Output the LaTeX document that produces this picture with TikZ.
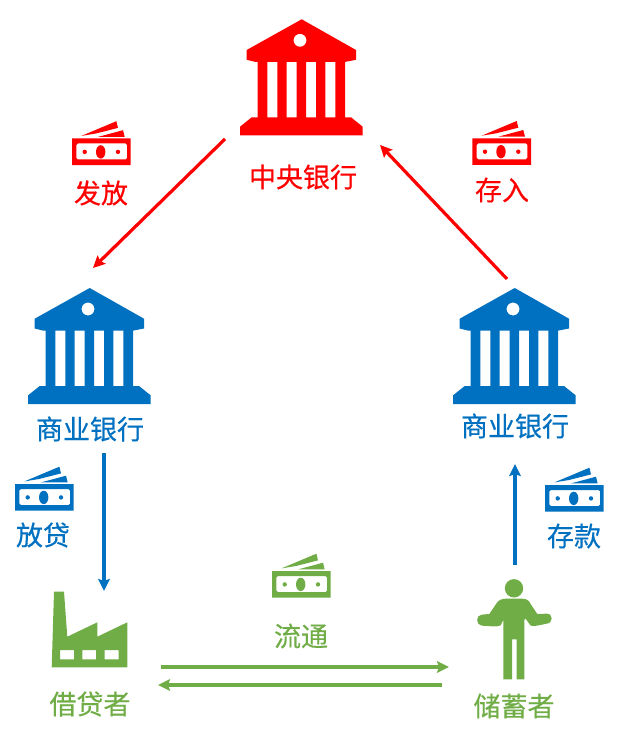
\documentclass[tikz,border=0pt]{standalone}
\usepackage{fontspec}
\setmainfont[FakeBold=0.35]{Noto Sans CJK SC}
\definecolor{cred}{HTML}{FF0000}
\definecolor{cblue}{HTML}{0070C0}
\definecolor{cgreen}{HTML}{70AD47}
\usetikzlibrary{arrows.meta}
\tikzset{
  x=1pt,y=-1pt,
  lbl/.style={font=\fontsize{27}{28}\selectfont,inner sep=0pt,text=#1},
  arr/.style={draw=#1,line width=3.2pt,-{Stealth[length=12pt,width=11.5pt,inset=2pt]}},
  bank/.pic={
    \fill[pic actions,even odd rule]
      (0,0)--(54.3,30.7)--(54.3,40.5)--(44,42.5)--(43.3,42.5)--(43.3,98)--(49.3,98)--(61,107.4)--(61,116)
      --(-61.7,116)--(-61.7,107.4)--(-50,98)--(-44,98)--(-44,42.5)--(-47,42.5)--(-55,40.5)--(-55,30.7)--cycle
      (-34.4,42.5) rectangle (-24.4,98)
      (-15,42.5) rectangle (-5,98)
      (4.3,42.5) rectangle (14.3,98)
      (23.6,42.5) rectangle (33.6,98)
      (-1.7,21) circle[radius=6.5];
  },
  money/.pic={
    \fill[pic actions,even odd rule] (0,0) rectangle (58.7,26.7)
      [rounded corners=1.5pt] (4.4,5) rectangle (55,21);
    \fill[pic actions] (28.7,13.4) ellipse[x radius=4.7,y radius=6.7];
    \fill[pic actions] (12.7,13.4) circle[radius=2.2];
    \fill[pic actions] (46,13.4) circle[radius=2.2];
    \fill[pic actions] (9.4,-2.6)--(44.4,-17.3)--(46,-10.6)--(24,-5)--cycle;
    \fill[pic actions] (26,-1.6)--(51,-8.3)--(52.7,-1.6)--cycle;
  },
}
\begin{document}
\begin{tikzpicture}
\useasboundingbox (0,0) rectangle (618,738);
% banks
\pic[fill=cred] at (301.7,19.3) {bank};
\pic[fill=cblue] at (89.7,288) {bank};
\pic[fill=cblue] at (514.7,288) {bank};
% money
\pic[fill=cred] at (72,138.5) {money};
\pic[fill=cred] at (472.3,138.3) {money};
\pic[fill=cblue] at (15,484) {money};
\pic[fill=cblue] at (545,485) {money};
\pic[fill=cgreen] at (272,571) {money};
% factory
\fill[cgreen,even odd rule] (54,591.7)--(64,591.7)--(67.3,636.7)--(97.3,622.3)--(97.3,636.7)--(127.3,622.3)--(127.3,667.3)--(51.7,667.3)--cycle
  (60,650) rectangle (74,659.3)
  (82.3,650) rectangle (96,659.3)
  (104.7,650) rectangle (118.7,659.3);
% person
\fill[cgreen] (514,588.3) circle[radius=9.2];
\begin{scope}[shift={(440,570)},x=0.3333pt,y=-0.3333pt]
\fill[cgreen,even odd rule] (190,328)--(190,150)--(182,166) .. controls (170,172) and (150,168) .. (125,167)
  .. controls (107,165) and (107,135) .. (125,134)--(148,132)--(168,102)
  .. controls (175,90) and (185,86) .. (198,86)--(245,86)
  .. controls (258,86) and (267,90) .. (272,102)--(292,132)--(320,131)
  .. controls (340,130) and (340,160) .. (320,161)
  .. controls (300,165) and (285,170) .. (272,167)--(256,145)--(253,150)--(253,328)--(230,328)--(230,208)--(216,208)--(216,328)--cycle;
\end{scope}
% labels
\node[lbl=cred] (cb) at (303,177) {中央银行};
\node[lbl=cred] (issue) at (101,193) {发放};
\node[lbl=cred] (dep) at (502,190) {存入};
\node[lbl=cblue] (cbl) at (90,429) {商业银行};
\node[lbl=cblue] (cbr) at (515,426) {商业银行};
\node[lbl=cblue] (loan) at (43,535) {放贷};
\node[lbl=cblue] (save) at (574,536) {存款};
\node[lbl=cgreen] (flow) at (301,636) {流通};
\node[lbl=cgreen] (bor) at (90,704) {借贷者};
\node[lbl=cgreen] (sav) at (514,706) {储蓄者};
% connector ends
\coordinate (a1) at (225,139); \coordinate (a2) at (93,268);
\coordinate (b1) at (507,279); \coordinate (b2) at (380,145);
\coordinate (c1) at (104,453); \coordinate (c2) at (104,591);
\coordinate (d1) at (515,565); \coordinate (d2) at (515,464);
\coordinate (e1) at (161,667); \coordinate (e2) at (449,667);
\coordinate (f1) at (442,685); \coordinate (f2) at (158,685);
\draw[arr=cred] (a1)--(a2);
\draw[arr=cred] (b1)--(b2);
\draw[arr=cblue] (c1)--(c2);
\draw[arr=cblue] (d1)--(d2);
\draw[arr=cgreen] (e1)--(e2);
\draw[arr=cgreen] (f1)--(f2);
\end{tikzpicture}
\end{document}
